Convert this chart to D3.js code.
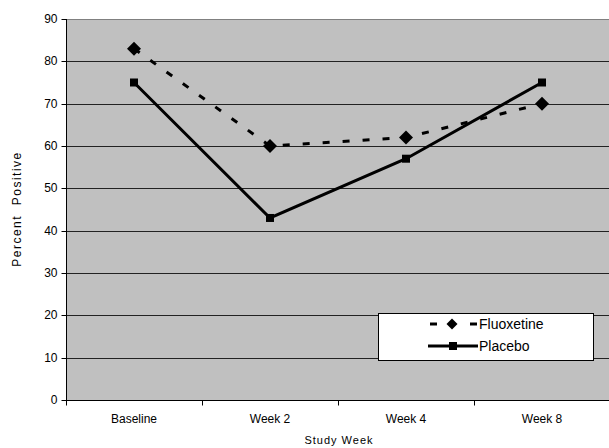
<!DOCTYPE html>
<html><head><meta charset="utf-8">
<script src="https://cdn.jsdelivr.net/npm/d3@7/dist/d3.min.js"></script>
<style>body{margin:0;background:#fff}svg{display:block;font-family:"Liberation Sans",Arial,sans-serif}</style>
</head><body>
<svg id="c" width="609" height="448"></svg>
<script>
const categories = ["Baseline","Week 2","Week 4","Week 8"];
const fluoxetine = [83,60,62,70];
const placebo = [75,43,57,75];
const yTicks = [0,10,20,30,40,50,60,70,80,90];

const svg = d3.select("#c");
const L=66, R=610, T=19, B=400;
const x = d3.scaleBand().domain(categories).range([L,R]);
const y = d3.scaleLinear().domain([0,90]).range([B,T]);

svg.append("rect").attr("x",L).attr("y",T).attr("width",R-L).attr("height",B-T).attr("fill","#c0c0c0");

// gridlines
svg.append("g").selectAll("line").data(yTicks.filter(d=>d>0)).join("line")
  .attr("x1",L).attr("x2",R).attr("y1",d=>Math.round(y(d))+0.5).attr("y2",d=>Math.round(y(d))+0.5)
  .attr("stroke",d=>d===90?"#808080":"#222").attr("stroke-width",1);

// y axis
const ya = svg.append("g").attr("transform",`translate(${L+0.5},0)`)
  .call(d3.axisLeft(y).tickValues(yTicks).tickSize(5).tickPadding(4));
ya.select(".domain").attr("stroke","#000").attr("d",`M0,${T}V${B}`);
ya.selectAll(".tick line").attr("stroke","#000");
ya.selectAll(".tick").attr("transform",d=>`translate(0,${Math.round(y(d))+0.5})`);
ya.selectAll("text").attr("font-size",12).attr("fill","#000").attr("font-family","Liberation Sans, Arial, sans-serif");

// x axis
const xa = svg.append("g").attr("transform",`translate(0,${B+0.5})`);
xa.append("line").attr("x1",L).attr("x2",R).attr("stroke","#000");
xa.selectAll("line.t").data(categories.slice(1).concat(["_end"])).join("line").attr("class","t")
  .attr("x1",(d,i)=>Math.round(x(categories[0])+x.bandwidth()*(i+1))+0.5)
  .attr("x2",(d,i)=>Math.round(x(categories[0])+x.bandwidth()*(i+1))+0.5)
  .attr("y1",0).attr("y2",5).attr("stroke","#000");
xa.append("line").attr("x1",L+0.5).attr("x2",L+0.5).attr("y1",0).attr("y2",5).attr("stroke","#000");
xa.selectAll("text").data(categories).join("text")
  .attr("x",d=>x(d)+x.bandwidth()/2).attr("y",22).attr("text-anchor","middle")
  .attr("font-size",12).text(d=>d);

// lines
const line = d3.line().x((d,i)=>x(categories[i])+x.bandwidth()/2).y(d=>y(d));
svg.append("path").datum(fluoxetine).attr("d",line).attr("fill","none").attr("stroke","#000")
  .attr("stroke-width",3).attr("stroke-dasharray","7,13");
svg.append("path").datum(placebo).attr("d",line).attr("fill","none").attr("stroke","#000")
  .attr("stroke-width",3);

const diamond = (cx,cy,s)=>`M${cx},${cy-s}L${cx+s},${cy}L${cx},${cy+s}L${cx-s},${cy}Z`;
svg.append("g").selectAll("path").data(fluoxetine).join("path")
  .attr("d",(d,i)=>diamond(x(categories[i])+x.bandwidth()/2,y(d),7)).attr("fill","#000");
svg.append("g").selectAll("rect").data(placebo).join("rect")
  .attr("x",(d,i)=>x(categories[i])+x.bandwidth()/2-4).attr("y",d=>y(d)-4)
  .attr("width",8).attr("height",8).attr("fill","#000");

// legend
const lg = svg.append("g");
lg.append("rect").attr("x",378.5).attr("y",313.5).attr("width",215).attr("height",47).attr("fill","#fff").attr("stroke","#000");
lg.append("line").attr("x1",430).attr("x2",437).attr("y1",324).attr("y2",324).attr("stroke","#000").attr("stroke-width",3);
lg.append("line").attr("x1",470).attr("x2",477).attr("y1",324).attr("y2",324).attr("stroke","#000").attr("stroke-width",3);
lg.append("path").attr("d",diamond(452,324,5.5)).attr("fill","#000");
lg.append("text").attr("x",479).attr("y",329).attr("font-size",14).text("Fluoxetine");
lg.append("line").attr("x1",428).attr("x2",478).attr("y1",346).attr("y2",346).attr("stroke","#000").attr("stroke-width",3);
lg.append("rect").attr("x",449).attr("y",342).attr("width",8).attr("height",8).attr("fill","#000");
lg.append("text").attr("x",479).attr("y",351).attr("font-size",14).text("Placebo");

// axis titles
svg.append("text").attr("x",339).attr("y",444).attr("text-anchor","middle").attr("font-size",11)
  .attr("letter-spacing",1).text("Study Week");
svg.append("text").attr("transform","translate(21,209) rotate(-90)").attr("text-anchor","middle")
  .attr("font-size",12).attr("letter-spacing",1.5).attr("xml:space","preserve").text("Percent  Positive");
</script>
</body></html>
